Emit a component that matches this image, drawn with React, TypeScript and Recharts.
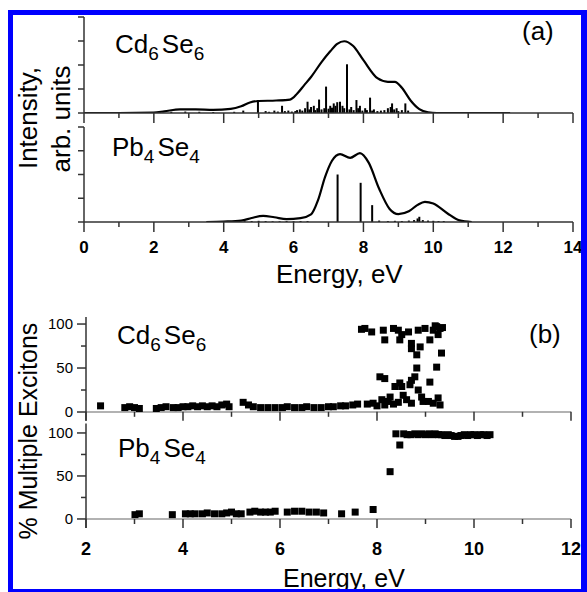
import React from 'react';
import { ComposedChart, Line, Scatter, XAxis, YAxis, ErrorBar, ReferenceLine } from 'recharts';

const FONT = '"Liberation Sans", Arial, Helvetica, sans-serif';

// (a) absorption spectra, intensity in units of the (unlabelled) y ticks
const cdCurveE = [0, 1, 2, 2.3, 2.75, 3.2, 3.7, 4.2, 4.5, 4.75, 5.0, 5.5, 5.9, 6.1, 6.3, 6.5, 6.8, 7.05, 7.25, 7.45, 7.7, 8.0, 8.4, 8.7, 8.9, 9.1, 9.35, 9.6, 9.85, 10.1, 12.2];
const cdCurveI = [0, 0, 0.02, 0.07, 0.15, 0.15, 0.13, 0.17, 0.28, 0.44, 0.5, 0.52, 0.56, 0.8, 1.15, 1.5, 2.12, 2.57, 2.88, 2.99, 2.8, 2.2, 1.45, 1.3, 1.3, 1.05, 0.52, 0.16, 0.03, 0, 0];
const cdStickE = [2.5, 2.9, 3.3, 3.7, 4.3, 4.56, 4.98, 5.2, 5.3, 5.45, 5.55, 5.67, 5.75, 5.85, 5.95, 6.05, 6.1, 6.18, 6.25, 6.33, 6.4, 6.45, 6.5, 6.58, 6.62, 6.68, 6.73, 6.8, 6.88, 6.93, 7.0, 7.05, 7.1, 7.15, 7.2, 7.25, 7.33, 7.4, 7.45, 7.53, 7.6, 7.65, 7.72, 7.8, 7.85, 7.9, 7.97, 8.05, 8.1, 8.19, 8.25, 8.3, 8.4, 8.5, 8.6, 8.7, 8.78, 8.82, 8.88, 8.95, 9.0, 9.1, 9.2, 9.28];
const cdStickH = [0.05, 0.06, 0.05, 0.04, 0.05, 0.1, 0.54, 0.08, 0.05, 0.1, 0.06, 0.3, 0.08, 0.1, 0.06, 0.08, 0.12, 0.15, 0.1, 0.2, 0.47, 0.15, 0.25, 0.3, 0.12, 0.2, 0.56, 0.15, 0.2, 1.1, 0.18, 0.3, 0.22, 0.4, 0.3, 0.45, 0.47, 0.3, 0.2, 2.03, 0.15, 0.25, 0.12, 0.54, 0.2, 0.3, 0.1, 0.2, 0.12, 0.64, 0.1, 0.15, 0.08, 0.1, 0.12, 0.2, 0.25, 0.4, 0.15, 0.2, 0.08, 0.12, 0.4, 0.1];

const pbCurveE = [3.5, 4.0, 4.5, 4.8, 5.13, 5.45, 5.8, 6.2, 6.5, 6.7, 6.9, 7.1, 7.33, 7.62, 7.9, 8.15, 8.45, 8.75, 9.0, 9.3, 9.55, 9.76, 10.0, 10.4, 10.75, 11.1];
const pbCurveI = [0, 0.02, 0.06, 0.17, 0.26, 0.2, 0.12, 0.16, 0.32, 0.92, 1.89, 2.58, 2.86, 2.7, 2.9, 2.5, 1.4, 0.55, 0.33, 0.45, 0.72, 0.85, 0.78, 0.37, 0.07, 0];
const pbStickE = [4.6, 4.8, 5.0, 5.2, 5.4, 5.6, 5.8, 6.0, 6.2, 6.4, 7.26, 7.92, 8.25, 8.45, 8.7, 8.9, 9.1, 9.3, 9.45, 9.55, 9.6, 9.7, 9.85, 10.0, 10.15, 10.3];
const pbStickH = [0.03, 0.04, 0.05, 0.04, 0.03, 0.03, 0.04, 0.03, 0.04, 0.04, 2.0, 1.65, 0.71, 0.06, 0.04, 0.05, 0.04, 0.06, 0.08, 0.15, 0.22, 0.08, 0.06, 0.05, 0.04, 0.04];

// (b) % multiple excitons
const cdMxE = [2.3, 2.8, 2.9, 3.0, 3.1, 3.45, 3.55, 3.65, 3.8, 3.9, 4.0, 4.1, 4.2, 4.3, 4.4, 4.5, 4.6, 4.7, 4.8, 4.9, 4.95, 5.24, 5.35, 5.45, 5.6, 5.75, 5.9, 6.05, 6.15, 6.3, 6.45, 6.55, 6.7, 6.85, 7.0, 7.1, 7.25, 7.35, 7.5, 7.6, 7.8, 7.92, 8.0, 8.1, 8.16, 8.23, 8.27, 8.34, 8.44, 8.54, 8.61, 8.71, 8.85, 8.92, 8.95, 9.06, 9.16, 9.26, 9.3,
  8.06, 8.16, 8.37, 8.47, 8.51, 8.68, 8.71, 8.78, 8.82, 9.09, 9.23,
  7.68, 7.75, 7.89, 8.13, 8.16, 8.34, 8.44, 8.47, 8.51, 8.65, 8.71, 8.71, 8.82, 8.89, 8.85, 8.99, 9.09, 9.16, 9.23, 9.3, 9.26, 9.33, 9.2, 9.35];
const cdMxPct = [7, 5, 6, 5, 4, 4, 5, 6, 5, 5, 6, 6, 7, 6, 7, 6, 7, 6, 8, 9, 6, 11, 8, 6, 5, 5, 5, 5, 6, 5, 5, 6, 5, 5, 6, 6, 7, 7, 8, 9, 9, 10, 7, 14, 8, 12, 17, 9, 11, 19, 14, 10, 25, 17, 12, 12, 10, 16, 8,
  40, 38, 29, 33, 29, 31, 36, 40, 50, 34, 51,
  94, 95, 91, 93, 82, 95, 93, 82, 88, 91, 78, 72, 65, 74, 93, 95, 82, 93, 97, 95, 88, 67, 98, 96];

const pbMxE = [3.01, 3.1, 3.78, 4.05, 4.15, 4.25, 4.4, 4.5, 4.65, 4.8, 4.9, 5.0, 5.1, 5.2, 5.38, 5.48, 5.6, 5.7, 5.8, 5.9, 6.15, 6.3, 6.45, 6.6, 6.75, 6.9, 7.27, 7.55, 7.92, 8.27, 8.47, 8.39,
  8.55, 8.62, 8.7, 8.78, 8.85, 8.92, 9.0, 9.07, 9.14, 9.2, 9.27, 9.33, 9.4, 9.47, 9.53, 9.6, 9.67, 9.73, 9.8, 9.87, 9.93, 10.0, 10.07, 10.13, 10.2, 10.27, 10.33];
const pbMxPct = [5, 6, 5, 6, 6, 6, 6, 7, 6, 6, 7, 8, 6, 6, 8, 9, 8, 8, 8, 9, 8, 9, 9, 8, 8, 7, 6, 8, 11, 55, 86, 99,
  99, 98, 98, 99, 98, 99, 98, 99, 98, 99, 98, 98, 97, 98, 97, 96, 96, 97, 98, 97, 98, 98, 97, 98, 98, 97, 98];

const energyTicksA = [0, 1, 2, 3, 4, 5, 6, 7, 8, 9, 10, 11, 12, 13, 14];
const energyTicksB = [2, 3, 4, 5, 6, 7, 8, 9, 10, 11, 12];
const intensityTicks = [0, 1, 2, 3, 4];
const percentTicks = [0, 25, 50, 75, 100];

const zip = (xs: number[], ys: number[]) => xs.map((e, i) => ({ e, v: ys[i] }));

const AXIS = '#333';

const SpecXTick = ({ x, y, payload, labels }: any) => {
  const major = payload.value % 2 === 0;
  return (
    <g>
      <line x1={x} x2={x} y1={y} y2={y + (major ? 10 : 5)} stroke={AXIS} strokeWidth={1.5} />
      {labels && major && (
        <text x={x} y={y + 31} textAnchor="middle" fontSize={17} fontWeight="bold" fontFamily={FONT} fill="#000">
          {payload.value}
        </text>
      )}
    </g>
  );
};

const SpecYTick = ({ x, y }: any) => <line x1={x - 6} x2={x} y1={y} y2={y} stroke={AXIS} strokeWidth={1.5} />;

const MxXTick = ({ x, y, payload, labels }: any) => {
  const major = payload.value % 2 === 0;
  const y0 = y - 9;
  return (
    <g>
      <line x1={x} x2={x} y1={y0} y2={y0 + (major ? 9 : 5)} stroke={AXIS} strokeWidth={1.5} />
      {labels && major && (
        <text x={x} y={y + 27} textAnchor="middle" fontSize={18} fontWeight="bold" fontFamily={FONT} fill="#000">
          {payload.value}
        </text>
      )}
    </g>
  );
};

const MxYTick = ({ x, y, payload }: any) => {
  const major = payload.value % 50 === 0;
  return (
    <g>
      <line x1={x - (major ? 9 : 5)} x2={x} y1={y} y2={y} stroke={AXIS} strokeWidth={1.5} />
      {major && (
        <text x={x - 13} y={y} dy="0.36em" textAnchor="end" fontSize={15} fontFamily={FONT} fill="#000">
          {payload.value}
        </text>
      )}
    </g>
  );
};

const Square = (p: any) => <rect x={p.cx - 3.5} y={p.cy - 3.5} width={7} height={7} fill="#000" />;

function Spectrum({ top, height, marginTop, marginBottom, curve, sticks, labels }: any) {
  return (
    <div style={{ position: 'absolute', left: 0, top }}>
      <ComposedChart width={587} height={height} margin={{ top: marginTop, right: 14, bottom: marginBottom, left: 74 }}>
        <XAxis
          type="number"
          dataKey="e"
          domain={[0, 14]}
          ticks={energyTicksA}
          interval={0}
          height={labels ? 40 : 30}
          allowDataOverflow
          axisLine={{ stroke: AXIS, strokeWidth: 1.5 }}
          tickLine={false}
          tickSize={0}
          tickMargin={0}
          tick={(p: any) => <SpecXTick {...p} labels={labels} />}
        />
        <YAxis
          type="number"
          dataKey="v"
          domain={[0, 4]}
          ticks={intensityTicks}
          interval={0}
          width={10}
          allowDataOverflow
          axisLine={{ stroke: AXIS, strokeWidth: 1.5 }}
          tickLine={false}
          tickSize={0}
          tickMargin={0}
          tick={(p: any) => <SpecYTick {...p} />}
        />
        <Scatter data={sticks} dataKey="v" shape={() => <g />} isAnimationActive={false}>
          <ErrorBar dataKey={(d: any) => [d.v, 0]} direction="y" width={0} stroke="#000" strokeWidth={2} isAnimationActive={false} />
        </Scatter>
        <Line data={curve} dataKey="v" type="monotone" stroke="#000" strokeWidth={2.2} dot={false} isAnimationActive={false} />
      </ComposedChart>
    </div>
  );
}

function Excitons({ top, height, marginTop, marginBottom, domain, points, labels }: any) {
  return (
    <div style={{ position: 'absolute', left: 0, top }}>
      <ComposedChart width={587} height={height} margin={{ top: marginTop, right: 16, bottom: marginBottom, left: 46 }}>
        <XAxis
          type="number"
          dataKey="e"
          domain={[2, 12]}
          ticks={energyTicksB}
          interval={0}
          height={labels ? 40 : 1}
          allowDataOverflow
          axisLine={false}
          tickLine={false}
          tickSize={0}
          tickMargin={0}
          tick={(p: any) => <MxXTick {...p} labels={labels} />}
        />
        <YAxis
          type="number"
          dataKey="v"
          domain={domain}
          ticks={percentTicks}
          interval={0}
          width={40}
          allowDataOverflow
          axisLine={{ stroke: AXIS, strokeWidth: 1.5 }}
          tickLine={false}
          tickSize={0}
          tickMargin={0}
          tick={(p: any) => <MxYTick {...p} />}
        />
        <ReferenceLine y={0} stroke="#999" strokeWidth={1.5} />
        <Scatter data={points} dataKey="v" shape={Square} isAnimationActive={false} />
      </ComposedChart>
    </div>
  );
}

const Formula = ({ x, y, a, n1, b, n2 }: any) => (
  <text x={x} y={y} fontSize={26} fontFamily={FONT} fill="#000">
    {a}
    <tspan dy={7} fontSize={19}>{n1}</tspan>
    <tspan dy={-7} dx={3}>{b}</tspan>
    <tspan dy={7} fontSize={19}>{n2}</tspan>
  </text>
);

export default function App() {
  return (
    <div style={{ position: 'absolute', left: 0, top: 0, width: 587, height: 592, background: '#fff', overflow: 'hidden' }}>
      <Spectrum top={0} height={150} marginTop={17} marginBottom={7} curve={zip(cdCurveE, cdCurveI)} sticks={zip(cdStickE, cdStickH)} labels={false} />
      <Spectrum top={120} height={170} marginTop={7} marginBottom={28} curve={zip(pbCurveE, pbCurveI)} sticks={zip(pbStickE, pbStickH)} labels />
      <Excitons top={300} height={130} marginTop={17} marginBottom={8.2} domain={[-10, 108]} points={zip(cdMxE, cdMxPct)} labels={false} />
      <Excitons top={420} height={172} marginTop={3.5} marginBottom={24} domain={[-10.5, 111]} points={zip(pbMxE, pbMxPct)} labels />

      <svg width={587} height={592} style={{ position: 'absolute', left: 0, top: 0, pointerEvents: 'none' }} fontFamily={FONT}>
        <text transform="translate(37,118) rotate(-90)" textAnchor="middle" fontSize={26} fill="#000">Intensity,</text>
        <text transform="translate(70,119) rotate(-90)" textAnchor="middle" fontSize={26} fill="#000">arb. units</text>
        <text x={276} y={283} fontSize={26} fill="#000">Energy, eV</text>
        <text x={522} y={40} fontSize={26} fill="#000">(a)</text>
        <Formula x={115} y={53} a="Cd" n1="6" b="Se" n2="6" />
        <Formula x={112} y={156} a="Pb" n1="4" b="Se" n2="4" />

        <text transform="translate(37,431) rotate(-90)" textAnchor="middle" fontSize={25} fill="#000">% Multiple Excitons</text>
        <text x={283} y={587} fontSize={25} fill="#000">Energy, eV</text>
        <text x={529} y={343} fontSize={26} fill="#000">(b)</text>
        <Formula x={117} y={344} a="Cd" n1="6" b="Se" n2="6" />
        <Formula x={118} y={457} a="Pb" n1="4" b="Se" n2="4" />
      </svg>

      <div
        style={{
          position: 'absolute',
          left: 8,
          top: 10,
          width: 579,
          height: 582,
          boxSizing: 'border-box',
          borderStyle: 'solid',
          borderColor: '#0000ff',
          borderWidth: '5px 6px 3px 5px',
        }}
      />
    </div>
  );
}
